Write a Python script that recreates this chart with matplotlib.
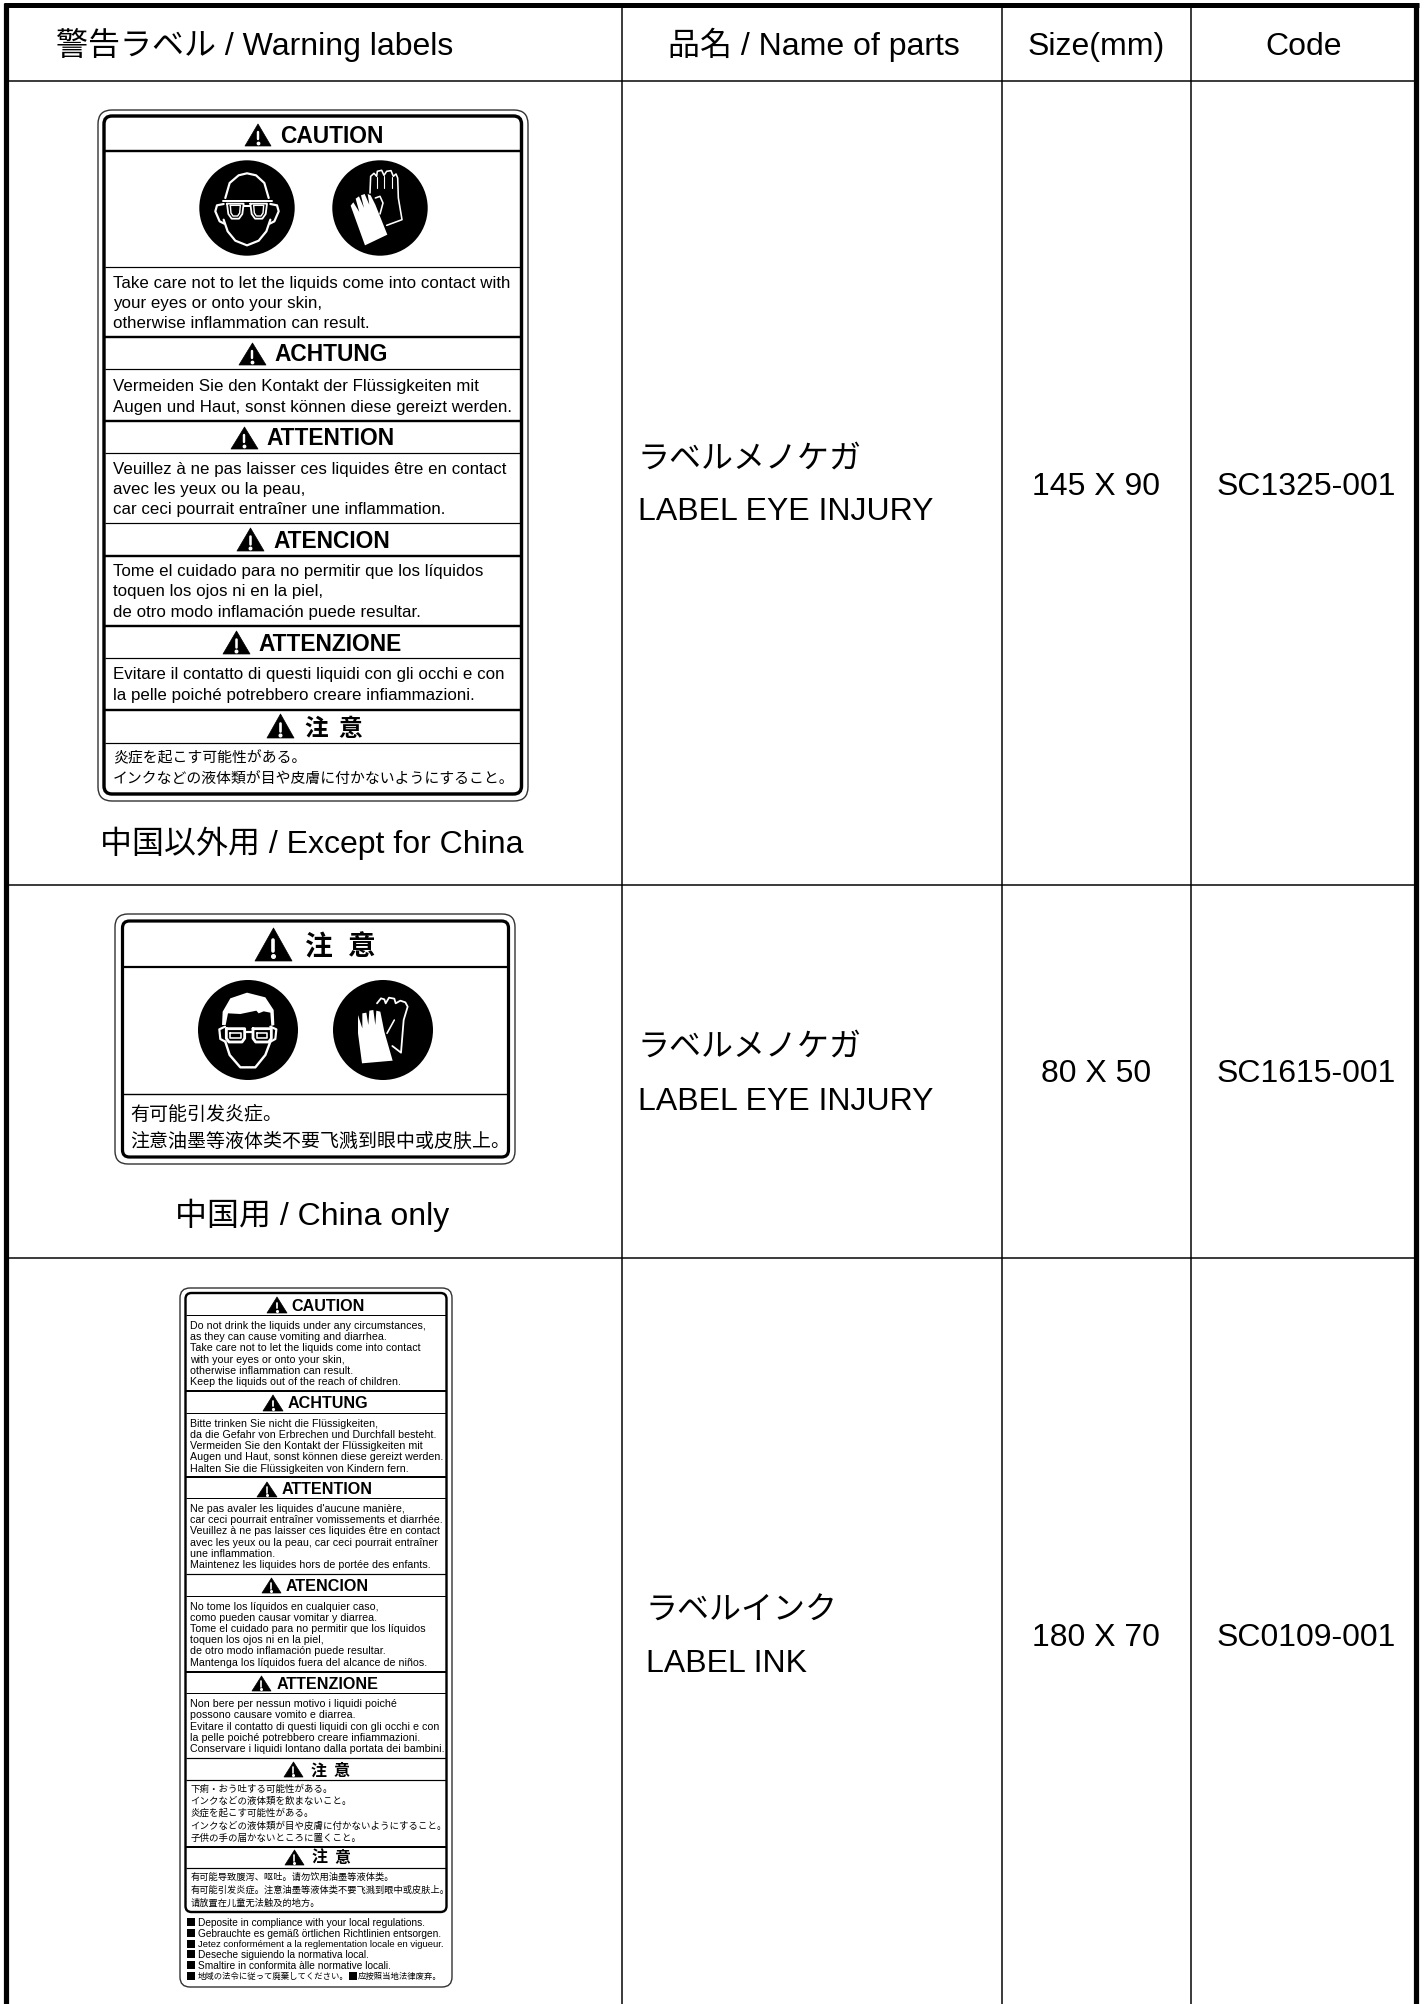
import matplotlib
matplotlib.use("Agg")
import matplotlib.pyplot as plt
from matplotlib.patches import Circle, FancyBboxPatch, Polygon
import numpy as np

plt.rcParams['font.family'] = ['Liberation Sans', 'Noto Sans CJK JP']

# table cells
headers = ['警告ラベル / Warning labels', '品名 / Name of parts', 'Size(mm)', 'Code']
part_jp = ['ラベルメノケガ', 'ラベルメノケガ', 'ラベルインク']
part_en = ['LABEL EYE INJURY', 'LABEL EYE INJURY', 'LABEL INK']
sizes = ['145 X 90', '80 X 50', '180 X 70']
codes = ['SC1325-001', 'SC1615-001', 'SC0109-001']
captions = ['中国以外用 / Except for China', '中国用 / China only']

# label 1 texts
l1_heads = ['CAUTION', 'ACHTUNG', 'ATTENTION', 'ATENCION', 'ATTENZIONE']
l1_body = [
    'Take care not to let the liquids come into contact with',
    'your eyes or onto your skin,',
    'otherwise inflammation can result.',
    'Vermeiden Sie den Kontakt der Flüssigkeiten mit',
    'Augen und Haut, sonst können diese gereizt werden.',
    'Veuillez à ne pas laisser ces liquides être en contact',
    'avec les yeux ou la peau,',
    'car ceci pourrait entraîner une inflammation.',
    'Tome el cuidado para no permitir que los líquidos',
    'toquen los ojos ni en la piel,',
    'de otro modo inflamación puede resultar.',
    'Evitare il contatto di questi liquidi con gli occhi e con',
    'la pelle poiché potrebbero creare infiammazioni.',
]
l1_jp = ['炎症を起こす可能性がある。', 'インクなどの液体類が目や皮膚に付かないようにすること。']

# label 2 texts
l2_cn = ['有可能引发炎症。', '注意油墨等液体类不要飞溅到眼中或皮肤上。']

# label 3 texts
l3_heads = ['CAUTION', 'ACHTUNG', 'ATTENTION', 'ATENCION', 'ATTENZIONE']
l3_body = [
    'Do not drink the liquids under any circumstances,',
    'as they can cause vomiting and diarrhea.',
    'Take care not to let the liquids come into contact',
    'with your eyes or onto your skin,',
    'otherwise inflammation can result.',
    'Keep the liquids out of the reach of children.',
    'Bitte trinken Sie nicht die Flüssigkeiten,',
    'da die Gefahr von Erbrechen und Durchfall besteht.',
    'Vermeiden Sie den Kontakt der Flüssigkeiten mit',
    'Augen und Haut, sonst können diese gereizt werden.',
    'Halten Sie die Flüssigkeiten von Kindern fern.',
    "Ne pas avaler les liquides d'aucune manière,",
    'car ceci pourrait entraîner vomissements et diarrhée.',
    'Veuillez à ne pas laisser ces liquides être en contact',
    'avec les yeux ou la peau, car ceci pourrait entraîner',
    'une inflammation.',
    'Maintenez les liquides hors de portée des enfants.',
    'No tome los líquidos en cualquier caso,',
    'como pueden causar vomitar y diarrea.',
    'Tome el cuidado para no permitir que los líquidos',
    'toquen los ojos ni en la piel,',
    'de otro modo inflamación puede resultar.',
    'Mantenga los líquidos fuera del alcance de niños.',
    'Non bere per nessun motivo i liquidi poiché',
    'possono causare vomito e diarrea.',
    'Evitare il contatto di questi liquidi con gli occhi e con',
    'la pelle poiché potrebbero creare infiammazioni.',
    'Conservare i liquidi lontano dalla portata dei bambini.',
]
l3_jp = ['下痢・おう吐する可能性がある。', 'インクなどの液体類を飲まないこと。', '炎症を起こす可能性がある。',
         'インクなどの液体類が目や皮膚に付かないようにすること。', '子供の手の届かないところに置くこと。']
l3_cn = ['有可能导致腹泻、呕吐。请勿饮用油墨等液体类。', '有可能引发炎症。注意油墨等液体类不要飞溅到眼中或皮肤上。',
         '请放置在儿童无法触及的地方。']
l3_foot = ['Deposite in compliance with your local regulations.',
           'Gebrauchte es gemäß örtlichen Richtlinien entsorgen.',
           'Jetez conformément a la reglementation locale en vigueur.',
           'Deseche siguiendo la normativa local.',
           'Smaltire in conformita àlle normative locali.']
l3_foot_cjk = ['地域の法令に従って廃棄してください。', '应按照当地法律废弃。']

LATIN = ['Liberation Sans', 'Noto Sans CJK JP']
JP = ['Noto Sans CJK JP', 'Liberation Sans']
CN = ['Noto Sans CJK SC', 'Liberation Sans']

fig = plt.figure(figsize=(14.25, 20.04), dpi=100)
ax = fig.add_axes([0, 0, 1, 1])
ax.set_xlim(0, 1425)
ax.set_ylim(2004, 0)
ax.axis('off')


def px(w):
    return w * 0.72


def put(s, x, y, size, ha='left', family=LATIN, weight='normal'):
    # y is the middle of the capitals, text sits on its baseline
    base = y + 0.36 * size / 0.72
    ax.text(x, base, s, fontsize=size, ha=ha, va='baseline', family=family,
            weight=weight, color='black')


def hline(x0, x1, y, w):
    ax.plot([x0, x1], [y, y], color='black', lw=px(w), solid_capstyle='butt')


def vline(x, y0, y1, w):
    ax.plot([x, x], [y0, y1], color='black', lw=px(w), solid_capstyle='butt')


def round_box(x0, y0, x1, y1, r, w, color='black'):
    ax.add_patch(FancyBboxPatch((x0, y0), x1 - x0, y1 - y0, boxstyle='round,pad=0,rounding_size=%g' % r,
                                fc='none', ec=color, lw=px(w)))


def triangle(x0, x1, y0, y1):
    xm = (x0 + x1) / 2
    h = y1 - y0
    ax.add_patch(Polygon([(x0, y1), (xm, y0), (x1, y1)], fc='black', ec='black', lw=0.5, joinstyle='round'))
    ax.plot([xm, xm], [y0 + 0.36 * h, y0 + 0.70 * h], color='white', lw=px(h * 0.11), solid_capstyle='round')
    ax.plot([xm], [y0 + 0.86 * h], 'o', color='white', ms=px(h * 0.11))


def heading(s, tx0, tx1, ty0, ty1, sx, y, size, family=LATIN):
    triangle(tx0, tx1, ty0, ty1)
    put(s, sx, y, size, family=family, weight='bold')


def icon_pts(pts, c0, cx, cy, k):
    return [(cx + (p[0] - c0[0]) * k, cy + (p[1] - c0[1]) * k) for p in pts]


def white_line(pts, c0, cx, cy, k, w):
    q = np.array(icon_pts(pts, c0, cx, cy, k))
    ax.plot(q[:, 0], q[:, 1], color='white', lw=px(w), solid_joinstyle='round', solid_capstyle='round')


def face_bald(cx, cy, r):
    ax.add_patch(Circle((cx, cy), r, fc='black', ec='none'))
    k = r / 143
    c0 = (170, 160)
    white_line([(105, 130), (118, 85), (145, 62), (170, 56), (197, 62), (222, 85), (235, 130)], c0, cx, cy, k, 2.2)
    white_line([(100, 195), (112, 230), (135, 258), (170, 272), (205, 258), (228, 230), (240, 195)], c0, cx, cy, k, 2.2)
    white_line([(100, 148), (80, 152), (75, 170), (88, 200), (102, 207)], c0, cx, cy, k, 2.2)
    white_line([(240, 148), (260, 152), (265, 170), (252, 200), (238, 207)], c0, cx, cy, k, 2.2)
    white_line([(97, 140), (245, 140)], c0, cx, cy, k, 2.0)
    for a, b in [(110, 160), (180, 230)]:
        white_line([(a, 147), (a + 4, 178), (a + 14, 192), (b - 14, 192), (b - 4, 178), (b, 147), (a, 147)], c0, cx, cy, k, 1.8)
        white_line([(a + 10, 152), (a + 12, 175), (a + 18, 184), (b - 18, 184), (b - 12, 175), (b - 10, 152), (a + 10, 152)], c0, cx, cy, k, 1.4)
    white_line([(160, 155), (180, 155)], c0, cx, cy, k, 2.0)


def gloves_1(cx, cy, r):
    ax.add_patch(Circle((cx, cy), r, fc='black', ec='none'))
    k = r / 143
    c0 = (570, 160)
    white_line([(540, 115), (542, 65), (552, 56), (560, 65), (562, 50), (575, 47), (582, 62), (590, 50), (603, 48),
                (610, 65), (618, 58), (623, 70), (625, 130), (636, 195), (590, 212)], c0, cx, cy, k, 1.6)
    for a in [(561, 67, 561, 100), (583, 64, 583, 100), (606, 68, 606, 100)]:
        white_line([(a[0], a[1]), (a[2], a[3])], c0, cx, cy, k, 1.1)
    white_line([(556, 130), (570, 125), (579, 145), (570, 178)], c0, cx, cy, k, 1.6)
    front = [(525, 272), (592, 240), (572, 190), (556, 150), (542, 122), (533, 118), (538, 150), (524, 118), (513, 122),
             (522, 160), (507, 125), (497, 132), (508, 172), (490, 143), (482, 153)]
    ax.add_patch(Polygon(icon_pts(front, c0, cx, cy, k), fc='white', ec='none'))


def face_hair(cx, cy, r):
    ax.add_patch(Circle((cx, cy), r, fc='black', ec='none'))
    k = r / 150
    c0 = (173, 180)
    hair = [(95, 165), (97, 125), (120, 85), (170, 68), (225, 82), (250, 120), (252, 165), (243, 168), (240, 128),
            (220, 124), (205, 130), (198, 122), (150, 132), (113, 130), (106, 165)]
    ax.add_patch(Polygon(icon_pts(hair, c0, cx, cy, k), fc='white', ec='none'))
    white_line([(105, 215), (118, 255), (150, 292), (195, 292), (225, 255), (240, 215)], c0, cx, cy, k, 2.4)
    white_line([(104, 170), (87, 178), (90, 207), (105, 215)], c0, cx, cy, k, 2.2)
    white_line([(240, 170), (258, 178), (255, 207), (240, 215)], c0, cx, cy, k, 2.2)
    for a, b in [(108, 163), (188, 243)]:
        white_line([(a, 176), (b, 176), (b, 205), (b - 8, 216), (a + 8, 216), (a, 205), (a, 176)], c0, cx, cy, k, 2.8)
        white_line([(a + 12, 188), (b - 12, 188), (b - 12, 204), (a + 12, 204), (a + 12, 188)], c0, cx, cy, k, 1.6)
    white_line([(163, 186), (188, 186)], c0, cx, cy, k, 2.2)


def gloves_2(cx, cy, r):
    ax.add_patch(Circle((cx, cy), r, fc='black', ec='none'))
    k = r / 150
    c0 = (578, 180)
    white_line([(560, 100), (572, 85), (582, 88), (586, 100), (596, 83), (612, 86), (616, 100), (630, 92), (645, 97),
                (652, 110), (640, 150), (632, 248), (606, 228)], c0, cx, cy, k, 1.8)
    white_line([(590, 190), (612, 150)], c0, cx, cy, k, 1.6)
    front = [(515, 280), (607, 272), (582, 185), (570, 125), (558, 122), (555, 165), (549, 120), (537, 122), (534, 165),
             (528, 128), (516, 130), (516, 175), (503, 135), (503, 190)]
    ax.add_patch(Polygon(icon_pts(front, c0, cx, cy, k), fc='white', ec='none'))


# table frame
col_lines = [622, 1002, 1191]
row_lines = [81, 885, 1258]
for x in col_lines:
    vline(x, 5, 2004, 1.5)
for y in row_lines:
    hline(6, 1416, y, 1.5)
vline(6.5, 3, 2004, 5.2)
vline(1416.5, 3, 2004, 5.2)
hline(4, 1419, 5, 5)

# header and cells
head_x = [255, 814, 1096, 1304]
for i in range(4):
    put(headers[i], head_x[i], 43, 23, ha='center')
jp_y = [456, 1044, 1608]
en_y = [509, 1098, 1660]
mid_y = [483, 1071, 1635]
name_x = [638, 638, 646]
for i in range(3):
    put(part_jp[i], name_x[i], jp_y[i], 23, family=JP)
    put(part_en[i], name_x[i], en_y[i], 23)
    put(sizes[i], 1096, mid_y[i], 23, ha='center')
    put(codes[i], 1306, mid_y[i], 23, ha='center')
put(captions[0], 312, 842, 23, ha='center')
put(captions[1], 312, 1213, 23, ha='center')

# label 1
round_box(98, 110, 528, 801, 14, 1.4, '#333333')
round_box(104, 116, 521.5, 794, 8, 3.4)
for y, w in zip([151, 267, 337, 369, 421, 453, 523, 556, 626, 658, 710, 743], [2.4, 1.2, 2.4, 1.2, 2.4, 1.2, 1.2, 2.4, 2.4, 1.2, 2.4, 1.2]):
    hline(105, 521, y, w)
l1_tri = [(245, 271, 124, 146), (239, 266, 343, 365), (231, 258, 427, 449), (237, 264, 528, 551), (223, 250, 631, 654)]
l1_head_x = [280, 274, 266, 273, 258]
l1_head_y = [135, 353, 437, 540, 643]
for i in range(5):
    t = l1_tri[i]
    heading(l1_heads[i], t[0], t[1], t[2], t[3], l1_head_x[i], l1_head_y[i], 16.4)
triangle(267, 294, 714, 738)
put('注', 304, 727, 17, family=JP, weight='bold')
put('意', 338, 727, 17, family=JP, weight='bold')
l1_body_y = [282, 302, 322, 385, 406, 468, 488, 508, 570, 590, 611, 673, 694]
for s, y in zip(l1_body, l1_body_y):
    put(s, 113, y, 12.15)
put(l1_jp[0], 113, 757, 10.7, family=JP)
put(l1_jp[1], 113, 778, 10.7, family=JP)
face_bald(247, 208, 47.7)
gloves_1(380, 208, 47.7)

# label 2
round_box(115, 914, 515, 1164, 13, 1.4, '#333333')
round_box(122.5, 921, 508.5, 1157, 7, 3.2)
hline(122, 509, 967, 2.2)
hline(122, 509, 1094, 1.4)
triangle(255, 292, 928, 961)
put('注', 305, 945, 20, family=CN, weight='bold')
put('意', 348, 945, 20, family=CN, weight='bold')
face_hair(248, 1030, 50)
gloves_2(383, 1030, 50)
put(l2_cn[0], 130.5, 1113, 13.65, family=CN)
put(l2_cn[1], 130.5, 1140, 13.65, family=CN)

# label 3
round_box(180, 1288, 452, 1987, 10, 1.4, '#333333')
round_box(185.5, 1293, 446.5, 1912, 6, 2.4)
l3_lines = [1315, 1391, 1413, 1477, 1498, 1574, 1596, 1672, 1693, 1758, 1780, 1847, 1868]
l3_w = [1, 2, 1, 2, 1, 1.2, 1, 2, 1, 1.2, 1.2, 2, 1.2]
for y, w in zip(l3_lines, l3_w):
    hline(186, 446, y, w)
l3_tri = [(267, 287, 1297, 1313), (263, 283, 1395, 1411), (257, 277, 1482, 1497), (262, 281, 1578, 1593), (252, 271, 1676, 1691)]
l3_head_x = [291, 288, 282, 286, 277]
l3_head_y = [1305, 1402, 1488, 1585, 1683]
for i in range(5):
    t = l3_tri[i]
    heading(l3_heads[i], t[0], t[1], t[2], t[3], l3_head_x[i], l3_head_y[i], 11.65)
triangle(284, 303, 1762, 1777)
put('注', 311, 1770, 11.5, family=JP, weight='bold')
put('意', 334, 1770, 11.5, family=JP, weight='bold')
triangle(285, 304, 1850, 1865)
put('注', 311, 1857, 11.5, family=CN, weight='bold')
put('意', 334, 1857, 11.5, family=CN, weight='bold')
l3_body_y = [1325, 1336, 1347, 1359, 1370, 1381, 1423, 1434, 1445, 1456, 1468, 1508, 1519, 1530, 1542, 1553, 1564,
             1606, 1617, 1628, 1639, 1650, 1662, 1703, 1714, 1726, 1737, 1748]
for s, y in zip(l3_body, l3_body_y):
    put(s, 190.5, y, 7.7)
for s, y in zip(l3_jp, [1789, 1801, 1812, 1826, 1838]):
    put(s, 190.5, y, 6.8, family=JP)
for s, y in zip(l3_cn, [1877, 1889, 1902]):
    put(s, 190.5, y, 6.63, family=CN)
foot_y = [1922, 1933, 1944, 1954, 1965]
foot_size = [7.25, 7.25, 6.8, 7.25, 7.25]
for s, y, f in zip(l3_foot, foot_y, foot_size):
    ax.add_patch(plt.Rectangle((187, y - 4), 8, 8, fc='black', ec='none'))
    put(s, 198, y, f)
ax.add_patch(plt.Rectangle((187, 1972), 8, 8, fc='black', ec='none'))
put(l3_foot_cjk[0], 198, 1976, 6.0, family=JP)
ax.add_patch(plt.Rectangle((349, 1972), 8, 8, fc='black', ec='none'))
put(l3_foot_cjk[1], 358, 1976, 6.0, family=CN)

fig.savefig('out.png', dpi=100, facecolor='white')
